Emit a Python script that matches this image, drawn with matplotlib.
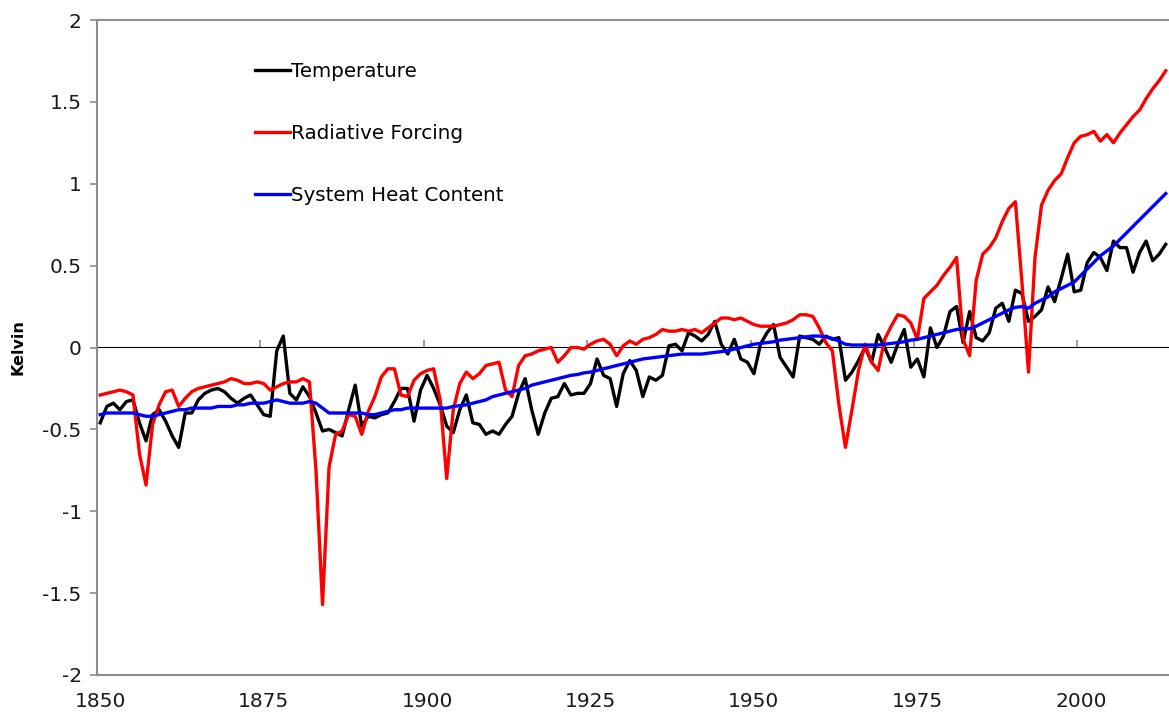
import numpy as np
import matplotlib
matplotlib.use("Agg")
import matplotlib.pyplot as plt
from matplotlib.ticker import FixedLocator, FuncFormatter

plt.rcParams['font.family'] = ['DejaVu Sans']
plt.rcParams['axes.unicode_minus'] = False

# annual values, 1850..2013
years = np.arange(1850, 2014)

temperature = [
    -0.46, -0.36, -0.34, -0.38, -0.33, -0.32, -0.46, -0.57, -0.41, -0.38,
    -0.45, -0.54, -0.61, -0.40, -0.40, -0.32, -0.28, -0.26, -0.25, -0.27,
    -0.31, -0.34, -0.31, -0.29, -0.35, -0.41, -0.42, -0.02, 0.07, -0.28,
    -0.32, -0.24, -0.30, -0.40, -0.51, -0.50, -0.52, -0.54, -0.38, -0.23,
    -0.48, -0.42, -0.43, -0.41, -0.40, -0.33, -0.25, -0.25, -0.45, -0.26,
    -0.17, -0.25, -0.35, -0.48, -0.52, -0.38, -0.29, -0.46, -0.47, -0.53,
    -0.51, -0.53, -0.47, -0.42, -0.28, -0.19, -0.38, -0.53, -0.40, -0.31,
    -0.30, -0.22, -0.29, -0.28, -0.28, -0.22, -0.07, -0.17, -0.19, -0.36,
    -0.16, -0.08, -0.14, -0.30, -0.18, -0.20, -0.17, 0.01, 0.02, -0.02,
    0.09, 0.07, 0.04, 0.08, 0.16, 0.02, -0.04, 0.05, -0.07, -0.09,
    -0.16, 0.02, 0.09, 0.14, -0.06, -0.12, -0.18, 0.07, 0.06, 0.05,
    0.02, 0.07, 0.05, 0.06, -0.20, -0.15, -0.08, 0.00, -0.09, 0.08,
    0.00, -0.09, 0.02, 0.11, -0.12, -0.07, -0.18, 0.12, 0.00, 0.07,
    0.22, 0.25, 0.03, 0.22, 0.06, 0.04, 0.09, 0.24, 0.27, 0.16,
    0.35, 0.33, 0.16, 0.19, 0.23, 0.37, 0.28, 0.42, 0.57, 0.34,
    0.35, 0.52, 0.58, 0.55, 0.47, 0.65, 0.61, 0.61, 0.46, 0.58,
    0.65, 0.53, 0.57, 0.63,
]

forcing = [
    -0.29, -0.28, -0.27, -0.26, -0.27, -0.29, -0.65, -0.84, -0.47, -0.35,
    -0.27, -0.26, -0.36, -0.31, -0.27, -0.25, -0.24, -0.23, -0.22, -0.21,
    -0.19, -0.20, -0.22, -0.22, -0.21, -0.22, -0.26, -0.24, -0.22, -0.21,
    -0.21, -0.19, -0.21, -0.75, -1.57, -0.73, -0.53, -0.51, -0.41, -0.42,
    -0.53, -0.39, -0.30, -0.18, -0.13, -0.13, -0.29, -0.30, -0.20, -0.16,
    -0.14, -0.13, -0.32, -0.80, -0.38, -0.22, -0.15, -0.19, -0.16, -0.11,
    -0.10, -0.09, -0.26, -0.30, -0.11, -0.05, -0.04, -0.02, -0.01, 0.00,
    -0.09, -0.05, 0.00, 0.00, -0.01, 0.02, 0.04, 0.05, 0.02, -0.05,
    0.01, 0.04, 0.02, 0.05, 0.06, 0.08, 0.11, 0.10, 0.10, 0.11,
    0.10, 0.11, 0.09, 0.12, 0.15, 0.18, 0.18, 0.17, 0.18, 0.16,
    0.14, 0.13, 0.13, 0.13, 0.14, 0.15, 0.17, 0.20, 0.20, 0.19,
    0.12, 0.03, -0.02, -0.35, -0.61, -0.38, -0.14, 0.02, -0.09, -0.14,
    0.05, 0.13, 0.20, 0.19, 0.15, 0.05, 0.30, 0.34, 0.38, 0.44,
    0.49, 0.55, 0.05, -0.05, 0.41, 0.57, 0.61, 0.67, 0.77, 0.85,
    0.89, 0.40, -0.15, 0.55, 0.87, 0.96, 1.02, 1.06, 1.16, 1.25,
    1.29, 1.30, 1.32, 1.26, 1.30, 1.25, 1.31, 1.36, 1.41, 1.45,
    1.52, 1.58, 1.63, 1.69,
]

heat_content = [
    -0.41, -0.40, -0.40, -0.40, -0.40, -0.40, -0.41, -0.42, -0.42, -0.41,
    -0.40, -0.39, -0.38, -0.38, -0.37, -0.37, -0.37, -0.37, -0.36, -0.36,
    -0.36, -0.35, -0.35, -0.34, -0.34, -0.34, -0.33, -0.32, -0.33, -0.34,
    -0.34, -0.34, -0.33, -0.34, -0.37, -0.40, -0.40, -0.40, -0.40, -0.40,
    -0.40, -0.41, -0.41, -0.40, -0.39, -0.38, -0.38, -0.37, -0.37, -0.37,
    -0.37, -0.37, -0.37, -0.37, -0.36, -0.355, -0.35, -0.34, -0.33, -0.32,
    -0.30, -0.29, -0.28, -0.27, -0.26, -0.25, -0.23, -0.22, -0.21, -0.20,
    -0.19, -0.18, -0.17, -0.165, -0.155, -0.15, -0.14, -0.13, -0.12, -0.11,
    -0.10, -0.09, -0.08, -0.07, -0.065, -0.06, -0.055, -0.05, -0.045, -0.04,
    -0.04, -0.04, -0.04, -0.035, -0.03, -0.025, -0.02, -0.01, 0.00, 0.01,
    0.02, 0.025, 0.03, 0.035, 0.045, 0.05, 0.055, 0.06, 0.065, 0.07,
    0.07, 0.065, 0.055, 0.04, 0.02, 0.015, 0.015, 0.015, 0.015, 0.015,
    0.02, 0.025, 0.03, 0.035, 0.045, 0.05, 0.06, 0.07, 0.08, 0.09,
    0.10, 0.11, 0.115, 0.115, 0.13, 0.15, 0.17, 0.19, 0.21, 0.23,
    0.245, 0.25, 0.24, 0.27, 0.29, 0.31, 0.34, 0.36, 0.38, 0.40,
    0.44, 0.48, 0.52, 0.56, 0.59, 0.62, 0.66, 0.70, 0.74, 0.78,
    0.82, 0.86, 0.90, 0.94,
]

series_names = ["Temperature", "Radiative Forcing", "System Heat Content"]
year_labels = [1850, 1875, 1900, 1925, 1950, 1975, 2000]

axis_grey = '#8e8e8e'

fig = plt.figure(figsize=(11.69, 7.13), dpi=100)
ax = fig.add_axes([97 / 1169, 38 / 713, 1072 / 1169, 655 / 713])

ax.plot(years, temperature, color='black', lw=2.4, label=series_names[0], zorder=3)
ax.plot(years, forcing, color='#ff0000', lw=2.4, label=series_names[1], zorder=4)
ax.plot(years, heat_content, color='#0000ff', lw=2.4, label=series_names[2], zorder=5)

ax.set_xlim(1849.5, 2013.5)
ax.set_ylim(-2, 2)

# y axis
ax.yaxis.set_major_locator(FixedLocator(np.arange(-2, 2.01, 0.5)))
ax.yaxis.set_major_formatter(FuncFormatter(lambda v, p: f"{v:g}"))
ax.tick_params(axis='y', direction='out', length=5, width=1.2, color=axis_grey,
               labelsize=14.5, labelcolor='#1a1a1a', pad=6)
ax.set_ylabel("Kelvin", fontsize=11.5, fontweight='bold', labelpad=12)

# x labels sit at the bottom, tick marks sit on the zero line
ax.set_xticks(year_labels)
ax.tick_params(axis='x', length=0, labelsize=14.5, labelcolor='#1a1a1a', pad=12)

sec = ax.secondary_xaxis(0.5)
sec.set_xticks([y - 0.5 for y in year_labels[1:]])
sec.tick_params(axis='x', direction='out', length=5, width=1.2, color=axis_grey,
                labelbottom=False, labeltop=False)
sec.spines['bottom'].set_color(axis_grey)
sec.spines['bottom'].set_linewidth(1.5)

for side in ['left', 'top', 'bottom']:
    ax.spines[side].set_color(axis_grey)
    ax.spines[side].set_linewidth(1.5)
ax.spines['right'].set_visible(False)

ax.legend(loc='upper left', bbox_to_anchor=(255 / 1169, 1 - 62 / 713),
          bbox_transform=fig.transFigure, frameon=False, fontsize=14.3,
          handlelength=1.75, handletextpad=0.05, labelspacing=2.17,
          borderpad=0, borderaxespad=0)

fig.savefig("out.png", dpi=100)
